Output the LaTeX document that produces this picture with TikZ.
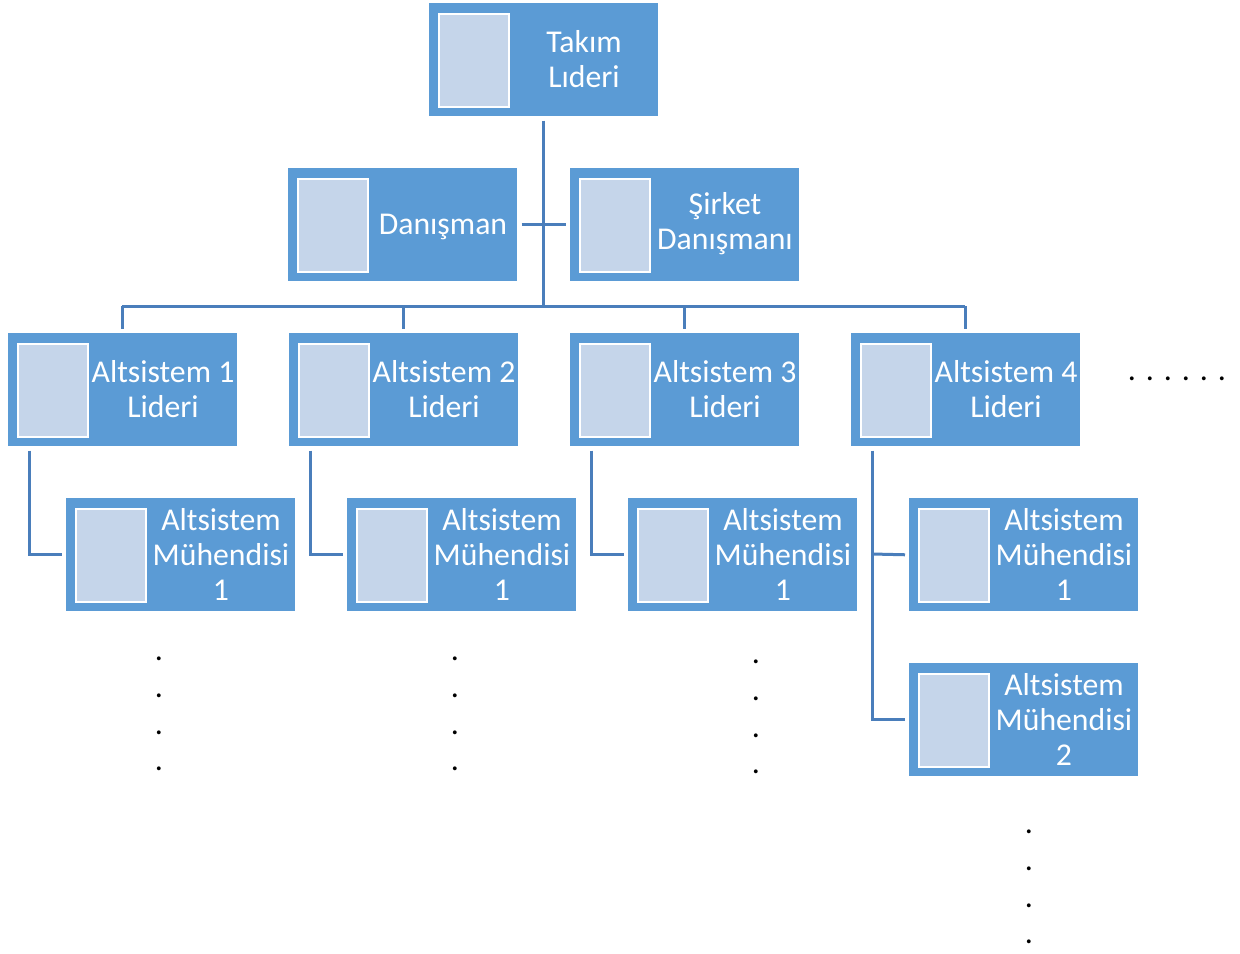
\documentclass[tikz,border=0pt]{standalone}
\usepackage{fontspec}
\setmainfont{Carlito}
\definecolor{boxblue}{HTML}{5B9BD5}
\definecolor{photofill}{HTML}{C5D5EA}
\definecolor{connblue}{HTML}{4A7EBB}
\newcommand\orgbox[5][56]{%
  \node[box] (#2) at (#3,#4) {};
  \node[photo] (#2p) at ({#3+45},{#4+57.5}) {};
  \node[lbl] (#2t) at ({#3+155},{#4+#1}) {#5};
}
\begin{document}
\begin{tikzpicture}[x=0.75pt,y=-0.75pt,
  box/.style={fill=boxblue, draw=none, minimum width=171.75pt, minimum height=84.75pt, anchor=north west, inner sep=0pt},
  photo/.style={fill=photofill, draw=white, line width=1.5pt, minimum width=52.5pt, minimum height=69.75pt, inner sep=0pt},
  lbl/.style={text=white, font=\fontsize{23.8}{26.25}\selectfont, align=center, inner sep=0pt},
  conn/.style={draw=connblue, line width=2.25pt},
  dotnode/.style={font=\fontsize{24}{26}\selectfont, anchor=base, inner sep=0pt}]
\useasboundingbox (0,0) rectangle (1240,954);

\orgbox{T}{429}{3}{Takım\\Lıderi}
\orgbox[58.5]{D}{288}{168}{Danışman}
\orgbox{S}{570}{168}{Şirket\\Danışmanı}
\orgbox{L1}{8}{333}{Altsistem 1\\Lideri}
\orgbox{L2}{289}{333}{Altsistem 2\\Lideri}
\orgbox{L3}{570}{333}{Altsistem 3\\Lideri}
\orgbox{L4}{851}{333}{Altsistem 4\\Lideri}
\orgbox{E1}{66}{498}{Altsistem\\Mühendisi\\1}
\orgbox{E2}{347}{498}{Altsistem\\Mühendisi\\1}
\orgbox{E3}{628}{498}{Altsistem\\Mühendisi\\1}
\orgbox{E4}{909}{498}{Altsistem\\Mühendisi\\1}
\orgbox{E5}{909}{663}{Altsistem\\Mühendisi\\2}

% connectors
\coordinate (bus) at (543,306);
\draw[conn] ([yshift=-3pt]T.south -| bus) -- (bus);
\draw[conn] ([xshift=3pt]D.east) -- ([xshift=-3pt]S.west);
\draw[conn] (122,306) -- (965,306);
\foreach \n/\x in {L1/122,L2/403,L3/684,L4/965}{
  \draw[conn] (\x,306) -- ([yshift=3pt]\n.north -| \x,0);
}
\foreach \l/\e/\x in {L1/E1/29,L2/E2/310,L3/E3/591}{
  \draw[conn] ([yshift=-3pt]\l.south -| \x,0) |- ([xshift=-3pt]\e.west);
}
\draw[conn] ([yshift=-3pt]L4.south -| 872,0) |- ([xshift=-3pt]E5.west);
\draw[conn] (872,554) -- ([xshift=-3pt]E4.west);

% dots
\foreach \i/\x in {1/1132,2/1150,3/1168,4/1186,5/1204,6/1222}{
  \node[dotnode] (h\i) at (\x,380) {.};
}
\foreach \i/\y in {1/660,2/697,3/734,4/770}{
  \node[dotnode] (a\i) at (159,\y) {.};
  \node[dotnode] (b\i) at (455,\y) {.};
}
\foreach \i/\y in {1/663,2/700,3/737,4/773}{
  \node[dotnode] (c\i) at (756,\y) {.};
}
\foreach \i/\y in {1/833,2/870,3/907,4/943}{
  \node[dotnode] (d\i) at (1029,\y) {.};
}
\end{tikzpicture}
\end{document}
